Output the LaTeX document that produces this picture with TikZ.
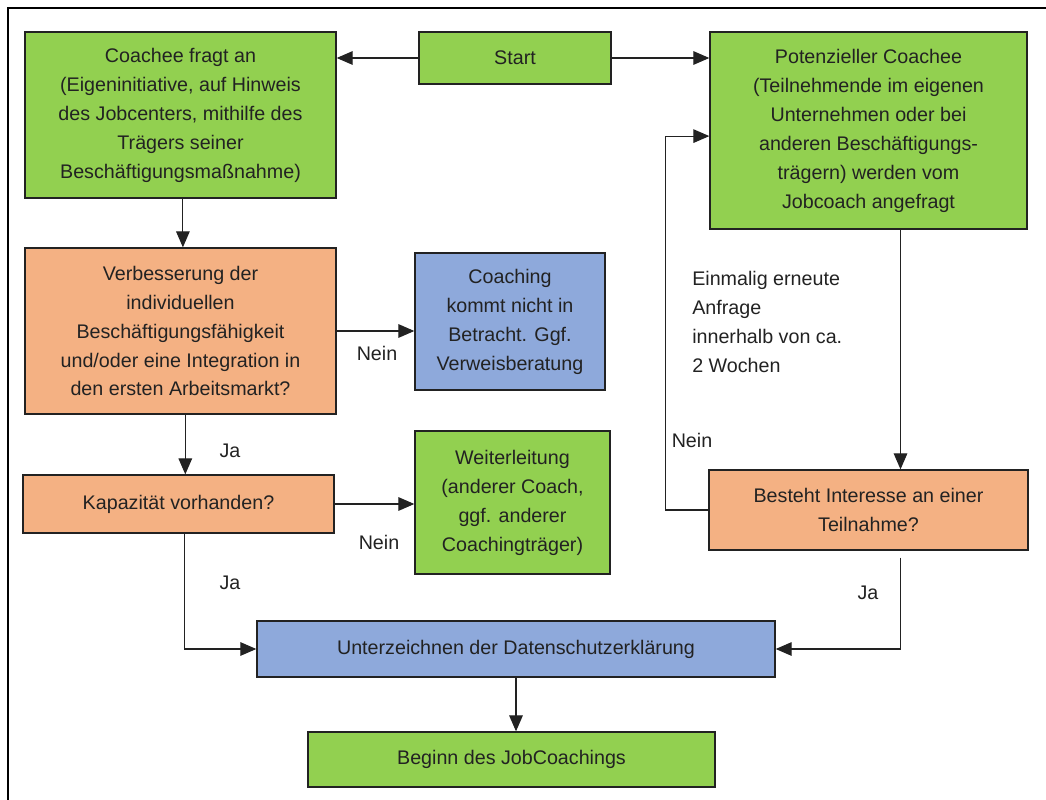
\documentclass[tikz,border=0pt]{standalone}
\usepackage{fontspec}
\setmainfont{Liberation Sans}
\usetikzlibrary{arrows.meta}
\definecolor{boxgreen}{HTML}{92D050}
\definecolor{boxorange}{HTML}{F4B183}
\definecolor{boxblue}{HTML}{8EA9DB}
\definecolor{ink}{HTML}{222222}
\begin{document}
\begin{tikzpicture}[x=0.025cm,y=-0.025cm,
 box/.style={draw=ink, line width=0.9pt, align=center, inner sep=0pt, text=ink, font=\fontsize{14}{20.6}\selectfont},
 greenbox/.style={box, fill=boxgreen},
 orangebox/.style={box, fill=boxorange},
 bluebox/.style={box, fill=boxblue},
 arr/.style={-{Triangle[length=0.4cm,width=0.34cm]}, line width=0.8pt, draw=ink},
 lbl/.style={text=ink, inner sep=0pt, font=\fontsize{14}{20.6}\selectfont}]
\useasboundingbox (0,0) rectangle (1046,800);
\draw[line width=2pt] (8,800) -- (8,8) -- (1046,8);
\node[greenbox, minimum width=7.775cm, minimum height=4.15cm] (coachee) at (180.5,115) {Coachee fragt an\\(Eigeninitiative, auf Hinweis\\des Jobcenters, mithilfe des\\Trägers seiner\\Beschäftigungsmaßnahme)};
\node[greenbox, minimum width=4.8cm, minimum height=1.3cm] (start) at (515,58) {Start};
\node[greenbox, minimum width=7.925cm, minimum height=4.925cm] (potenz) at (868.5,130.5) {Potenzieller Coachee\\(Teilnehmende im eigenen\\Unternehmen oder bei\\anderen Beschäftigungs-\\trägern) werden vom\\Jobcoach angefragt};
\node[orangebox, minimum width=7.775cm, minimum height=4.15cm] (verbess) at (180.5,331) {Verbesserung der\\individuellen\\Beschäftigungsfähigkeit\\und/oder eine Integration in\\den ersten Arbeitsmarkt?};
\node[bluebox, minimum width=4.75cm, minimum height=3.425cm] (coaching) at (510,321.5) {Coaching\\kommt nicht in\\Betracht. Ggf.\\Verweisberatung};
\node[orangebox, minimum width=7.775cm, minimum height=1.45cm] (kapaz) at (178.5,504) {Kapazität vorhanden?};
\node[greenbox, minimum width=4.875cm, minimum height=3.575cm] (weiter) at (512.5,502.5) {Weiterleitung\\(anderer Coach,\\ggf. anderer\\Coachingträger)};
\node[orangebox, minimum width=7.975cm, minimum height=2cm] (besteht) at (868.5,510) {Besteht Interesse an einer\\Teilnahme?};
\node[bluebox, minimum width=12.95cm, minimum height=1.4cm] (unterz) at (516,649) {Unterzeichnen der Datenschutzerklärung};
\node[greenbox, minimum width=10.175cm, minimum height=1.375cm] (beginn) at (511.5,759.5) {Beginn des JobCoachings};
\node[lbl] (nein1) at (377,353) {Nein};
\node[lbl] (nein2) at (379,542) {Nein};
\node[lbl] (nein3) at (692,440) {Nein};
\node[lbl] (ja1) at (230,451) {Ja};
\node[lbl] (ja2) at (230,583) {Ja};
\node[lbl] (ja3) at (868,593) {Ja};
\node[lbl, align=left, anchor=west] (hint) at (692,322) {Einmalig erneute\\Anfrage\\innerhalb von ca.\\2 Wochen};
\draw[arr] (start.west) -- (start.west -| coachee.east);
\draw[arr] (start.east) -- (start.east -| potenz.west);
\draw[arr] ([xshift=0.06cm]coachee.south) -- ([xshift=0.06cm]coachee.south |- verbess.north);
\draw[arr] (verbess.east) -- (verbess.east -| coaching.west);
\draw[arr] ([xshift=0.12cm]verbess.south) -- ([xshift=0.12cm]verbess.south |- kapaz.north);
\draw[arr] (kapaz.east) -- (kapaz.east -| weiter.west);
\draw[arr] ([xshift=0.16cm]kapaz.south) |- (unterz.west);
\draw[arr] ([xshift=0.8cm]potenz.south) -- ([xshift=0.8cm]potenz.south |- besteht.north);
\draw[arr] (besteht.west) -- ++(-43,0) |- ([yshift=-0.14cm]potenz.west);
\draw[arr] ([xshift=0.8cm,yshift=-0.175cm]besteht.south) |- (unterz.east);
\draw[arr] (unterz.south) -- (unterz.south |- beginn.north);
\end{tikzpicture}
\end{document}
